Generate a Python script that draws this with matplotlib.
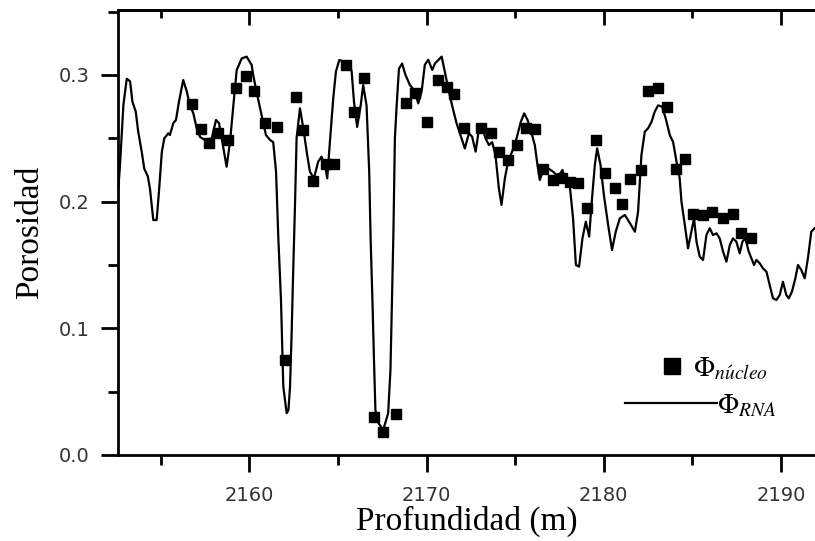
import matplotlib
matplotlib.use("Agg")
import matplotlib.pyplot as plt
from matplotlib.ticker import MultipleLocator, FormatStrFormatter

# ---- data ----
depth_rna = [2152.56, 2152.69, 2152.88, 2153.07, 2153.26, 2153.39, 2153.58, 2153.72, 2153.92, 2154.06,
             2154.26, 2154.38, 2154.57, 2154.76, 2154.89, 2155.05, 2155.19, 2155.42, 2155.51, 2155.70,
             2155.85, 2156.02, 2156.26, 2156.46, 2156.64, 2156.83, 2157.02, 2157.21, 2157.49, 2157.87,
             2158.11, 2158.28, 2158.47, 2158.71, 2158.90, 2159.09, 2159.28, 2159.56, 2159.84, 2160.12,
             2160.21, 2160.44, 2160.69, 2160.93, 2161.16, 2161.34, 2161.50, 2161.63, 2161.78, 2161.91,
             2162.10, 2162.20, 2162.29, 2162.38, 2162.47, 2162.57, 2162.66, 2162.85, 2163.04, 2163.23,
             2163.41, 2163.64, 2163.88, 2164.07, 2164.26, 2164.39, 2164.54, 2164.73, 2164.88, 2165.07,
             2165.39, 2165.52, 2165.63, 2165.77, 2165.90, 2166.08, 2166.28, 2166.42, 2166.61, 2166.76,
             2166.84, 2166.95, 2167.03, 2167.11, 2167.25, 2167.55, 2167.83, 2167.96, 2168.04, 2168.13,
             2168.21, 2168.31, 2168.44, 2168.62, 2168.81, 2169.06, 2169.30, 2169.53, 2169.72, 2169.90,
             2170.09, 2170.32, 2170.47, 2170.85, 2171.03, 2171.22, 2171.44, 2171.69, 2171.94, 2172.16,
             2172.39, 2172.57, 2172.77, 2172.95, 2173.14, 2173.33, 2173.52, 2173.70, 2173.89, 2174.08,
             2174.23, 2174.42, 2174.60, 2174.83, 2175.08, 2175.32, 2175.51, 2175.70, 2175.93, 2176.11,
             2176.26, 2176.39, 2176.58, 2176.86, 2177.14, 2177.43, 2177.67, 2177.86, 2178.09, 2178.27,
             2178.43, 2178.61, 2178.80, 2178.99, 2179.18, 2179.31, 2179.50, 2179.63, 2179.82, 2180.01,
             2180.25, 2180.47, 2180.68, 2180.91, 2181.19, 2181.43, 2181.76, 2181.94, 2182.13, 2182.32,
             2182.51, 2182.70, 2182.88, 2183.07, 2183.30, 2183.50, 2183.73, 2183.92, 2184.11, 2184.29,
             2184.39, 2184.58, 2184.76, 2184.95, 2185.10, 2185.24, 2185.42, 2185.61, 2185.80, 2185.99,
             2186.17, 2186.37, 2186.55, 2186.74, 2186.93, 2187.12, 2187.30, 2187.49, 2187.68, 2187.83,
             2188.00, 2188.19, 2188.34, 2188.49, 2188.62, 2188.81, 2188.99, 2189.19, 2189.37, 2189.56,
             2189.75, 2189.94, 2190.12, 2190.31, 2190.45, 2190.63, 2190.82, 2190.97, 2191.16, 2191.35,
             2191.53, 2191.72, 2191.91]
phi_rna = [0.203, 0.229, 0.276, 0.297, 0.295, 0.279, 0.271, 0.255, 0.239, 0.226,
           0.220, 0.2105, 0.1855, 0.1855, 0.208, 0.239, 0.250, 0.254, 0.2526, 0.262,
           0.2645, 0.279, 0.296, 0.287, 0.276, 0.2697, 0.258, 0.251, 0.2487, 0.250,
           0.2645, 0.262, 0.247, 0.2276, 0.247, 0.276, 0.304, 0.313, 0.3145, 0.308,
           0.300, 0.284, 0.268, 0.2526, 0.2487, 0.247, 0.2237, 0.171, 0.122, 0.054,
           0.033, 0.0355, 0.054, 0.096, 0.146, 0.197, 0.250, 0.2737, 0.258, 0.2395,
           0.2237, 0.2184, 0.2316, 0.2355, 0.229, 0.2184, 0.247, 0.2816, 0.3026, 0.3118,
           0.3105, 0.304, 0.3105, 0.3026, 0.279, 0.259, 0.276, 0.292, 0.276, 0.2237,
           0.171, 0.118, 0.075, 0.0355, 0.026, 0.0197, 0.033, 0.067, 0.118, 0.1776,
           0.250, 0.276, 0.305, 0.309, 0.300, 0.292, 0.288, 0.2776, 0.287, 0.308,
           0.312, 0.304, 0.309, 0.3145, 0.3026, 0.2895, 0.276, 0.262, 0.2513, 0.242,
           0.254, 0.2513, 0.2395, 0.2566, 0.258, 0.250, 0.2447, 0.247, 0.2368, 0.2105,
           0.1974, 0.2184, 0.2316, 0.2395, 0.250, 0.263, 0.2697, 0.2645, 0.254, 0.2447,
           0.229, 0.217, 0.225, 0.2263, 0.2237, 0.2197, 0.225, 0.2158, 0.2118, 0.1868,
           0.150, 0.1487, 0.171, 0.1842, 0.1724, 0.1974, 0.229, 0.242, 0.229, 0.2053,
           0.1816, 0.1618, 0.1763, 0.1868, 0.1895, 0.1842, 0.1763, 0.192, 0.2368, 0.2552,
           0.258, 0.263, 0.271, 0.276, 0.275, 0.2658, 0.2526, 0.247, 0.2316, 0.2184,
           0.200, 0.1816, 0.1632, 0.1763, 0.1868, 0.1684, 0.1566, 0.154, 0.1737, 0.179,
           0.1737, 0.175, 0.171, 0.1605, 0.1526, 0.1658, 0.171, 0.1684, 0.1592, 0.1684,
           0.171, 0.1605, 0.1553, 0.150, 0.154, 0.1513, 0.1474, 0.1447, 0.1342, 0.1237,
           0.1224, 0.1263, 0.1368, 0.1263, 0.1237, 0.129, 0.1395, 0.150, 0.146, 0.1395,
           0.1553, 0.1763, 0.179]

depth_core = [2156.74, 2157.26, 2157.73, 2158.24, 2158.77, 2159.24, 2159.79, 2160.28, 2160.87, 2161.53,
              2162.00, 2162.62, 2163.04, 2163.60, 2164.32, 2164.77, 2165.45, 2165.91, 2166.48, 2167.03,
              2167.55, 2168.25, 2168.83, 2169.34, 2170.03, 2170.62, 2171.13, 2171.56, 2172.10, 2173.06,
              2173.61, 2174.10, 2174.60, 2175.10, 2175.60, 2176.11, 2176.60, 2177.11, 2177.62, 2178.09,
              2178.56, 2179.03, 2179.59, 2180.10, 2180.63, 2181.06, 2181.51, 2182.08, 2182.51, 2183.07,
              2183.60, 2184.10, 2184.58, 2185.04, 2185.61, 2186.14, 2186.74, 2187.30, 2187.78, 2188.30]
phi_core = [0.277, 0.257, 0.246, 0.254, 0.2487, 0.290, 0.2995, 0.2875, 0.262, 0.259,
            0.075, 0.283, 0.2566, 0.2163, 0.2295, 0.2295, 0.308, 0.271, 0.298, 0.030,
            0.0184, 0.032, 0.278, 0.286, 0.2626, 0.296, 0.2908, 0.2847, 0.2584, 0.2584,
            0.2545, 0.239, 0.2329, 0.2447, 0.258, 0.2571, 0.2255, 0.217, 0.2184, 0.2158,
            0.2145, 0.1947, 0.2487, 0.2224, 0.2105, 0.1982, 0.2179, 0.225, 0.2874, 0.2895,
            0.275, 0.2255, 0.2337, 0.1903, 0.1895, 0.1916, 0.1868, 0.1903, 0.175, 0.171]

x_major = [2160, 2170, 2180, 2190]
y_major = [0.0, 0.1, 0.2, 0.3]
label_core = r'$\Phi_{n\acute{u}cleo}$'
label_rna = r'$\Phi_{RNA}$'

plt.rcParams['mathtext.fontset'] = 'stix'

W, H = 815, 541
fig = plt.figure(figsize=(W / 100, H / 100), dpi=100)
left, right, bottom, top = 117.7, 815, 455, 10
ax = fig.add_axes([left / W, 1 - bottom / H, (right - left) / W, (bottom - top) / H])

ln, = ax.plot(depth_rna, phi_rna, color='black', lw=1.6, zorder=2)
pts, = ax.plot(depth_core, phi_core, 's', color='black', markersize=7.5, ls='none', zorder=3)

ax.set_xlim(2152.56, 2191.93)
ax.set_ylim(0, 0.3513)

ax.xaxis.set_major_locator(MultipleLocator(10))
ax.xaxis.set_minor_locator(MultipleLocator(5))
ax.yaxis.set_major_locator(MultipleLocator(0.1))
ax.yaxis.set_minor_locator(MultipleLocator(0.05))
ax.yaxis.set_major_formatter(FormatStrFormatter('%.1f'))

for s in ['left', 'bottom', 'top']:
    ax.spines[s].set_linewidth(2.0)
ax.spines['right'].set_visible(False)

ax.tick_params(axis='both', which='major', direction='out', length=12, width=2.0,
               labelsize=14, labelcolor='#333333', pad=8)
ax.tick_params(axis='x', which='major', pad=10)
ax.tick_params(axis='both', which='minor', direction='out', length=7, width=2.0)
for lab in ax.get_xticklabels() + ax.get_yticklabels():
    lab.set_fontfamily('DejaVu Sans')

sec = ax.secondary_xaxis('top')
sec.xaxis.set_major_locator(MultipleLocator(10))
sec.xaxis.set_minor_locator(MultipleLocator(5))
sec.tick_params(which='major', direction='in', length=11, width=2.0, labeltop=False)
sec.tick_params(which='minor', direction='in', length=6, width=2.0)
sec.spines['top'].set_linewidth(2.0)

ax.set_xlabel('Profundidad (m)', fontfamily='Liberation Serif', fontsize=24, labelpad=1)
ax.set_ylabel('Porosidad', fontfamily='Liberation Serif', fontsize=24, labelpad=10)

leg1 = ax.legend([pts], [label_core], loc='center left',
                 bbox_to_anchor=(658 / W, 1 - 368 / H), bbox_transform=fig.transFigure,
                 frameon=False, fontsize=20, handlelength=1.0, handletextpad=0.25,
                 borderpad=0, borderaxespad=0, markerscale=1.45, numpoints=1)
ax.add_artist(leg1)
leg2 = ax.legend([ln], [label_rna], loc='center left',
                 bbox_to_anchor=(625 / W, 1 - 405 / H), bbox_transform=fig.transFigure,
                 frameon=False, fontsize=20, handlelength=3.3, handletextpad=0.0,
                 borderpad=0, borderaxespad=0)

fig.savefig('out.png', dpi=100)
